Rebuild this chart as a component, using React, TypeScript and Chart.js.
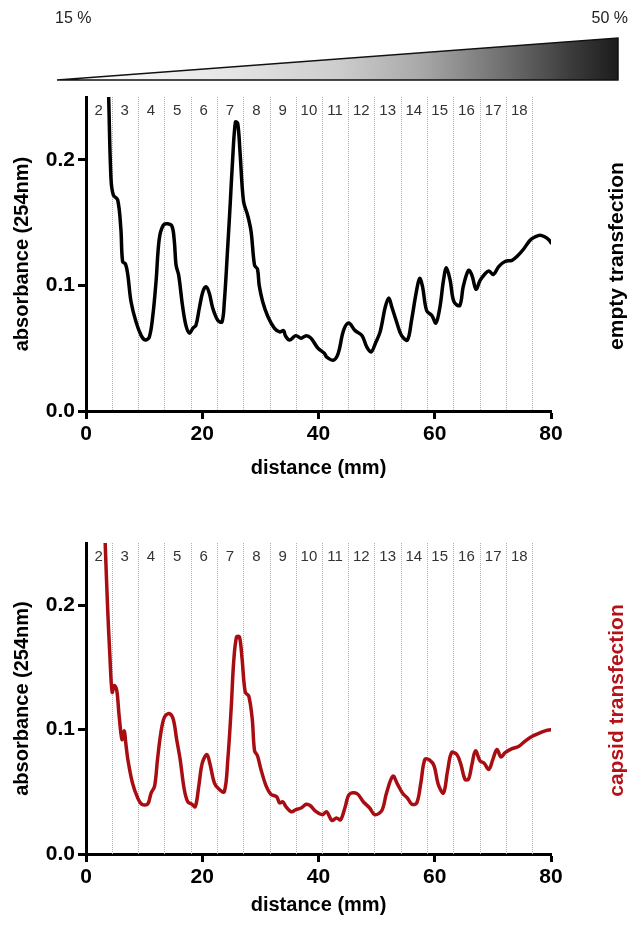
import React, { useEffect, useRef } from 'react';
import { Chart, registerables } from 'chart.js';

Chart.register(...registerables);

const FONT = '"Liberation Sans", Arial, Helvetica, sans-serif';

const X_TICKS = [0, 20, 40, 60, 80];
const Y_TICKS = [0, 0.1, 0.2];
const FRACTION_LABELS = ['2', '3', '4', '5', '6', '7', '8', '9', '10', '11', '12', '13', '14', '15', '16', '17', '18'];
const FRACTION_BOUNDS = [4.4, 8.9, 13.4, 18.0, 22.5, 27.0, 31.6, 36.1, 40.6, 45.1, 49.6, 54.2, 58.6, 63.1, 67.8, 72.3, 76.8];
const GRADIENT_LABELS = ['15 %', '50 %'];

// [distance mm, absorbance]
const EMPTY_TRACE = [
  [3.9, 0.25], [4.3, 0.185], [4.7, 0.172], [5.45, 0.168], [6.0, 0.145], [6.3, 0.119], [6.8, 0.117],
  [7.2, 0.108], [7.75, 0.087], [8.6, 0.071], [9.5, 0.06], [10.2, 0.0565], [10.9, 0.059], [11.5, 0.076],
  [12.05, 0.103], [12.6, 0.137], [13.3, 0.148], [14.05, 0.149], [14.8, 0.147], [15.2, 0.135], [15.5, 0.116],
  [15.95, 0.108], [16.6, 0.084], [17.2, 0.068], [17.8, 0.062], [18.4, 0.066], [18.9, 0.068], [19.5, 0.082],
  [20.1, 0.095], [20.65, 0.099], [21.2, 0.094], [21.8, 0.082], [22.7, 0.072], [23.4, 0.071], [23.8, 0.087],
  [24.4, 0.132], [24.8, 0.164], [25.2, 0.198], [25.7, 0.23], [26.1, 0.229], [26.5, 0.206], [27.1, 0.167],
  [27.8, 0.156], [28.4, 0.143], [29.0, 0.116], [29.5, 0.113], [29.8, 0.1], [30.4, 0.087], [31.3, 0.075],
  [32.4, 0.066], [33.3, 0.063], [34.0, 0.064], [34.3, 0.06], [35.0, 0.0565], [36.1, 0.06], [37.0, 0.058],
  [37.9, 0.06], [38.7, 0.058], [39.9, 0.05], [41.0, 0.046], [41.4, 0.043], [42.6, 0.0405], [43.4, 0.046],
  [44.3, 0.064], [45.2, 0.07], [46.3, 0.064], [47.5, 0.06], [48.3, 0.051], [49.05, 0.047], [49.8, 0.054],
  [50.6, 0.063], [51.5, 0.083], [52.1, 0.09], [52.6, 0.083], [53.5, 0.07], [54.3, 0.06], [55.3, 0.0565],
  [56.0, 0.072], [56.8, 0.094], [57.4, 0.1055], [57.9, 0.099], [58.6, 0.08], [59.5, 0.076], [60.2, 0.07],
  [60.9, 0.083], [61.5, 0.104], [62.0, 0.114], [62.65, 0.104], [63.3, 0.087], [64.3, 0.084], [64.9, 0.099],
  [65.8, 0.112], [66.4, 0.108], [67.1, 0.097], [67.8, 0.104], [68.7, 0.1095], [69.3, 0.1115], [70.1, 0.1087],
  [71.0, 0.115], [72.1, 0.119], [73.3, 0.12], [74.1, 0.1228], [75.3, 0.129], [76.4, 0.136], [77.3, 0.1387],
  [78.1, 0.14], [78.9, 0.1387], [79.7, 0.136], [80.0, 0.134],
];

const CAPSID_TRACE = [
  [3.3, 0.25], [3.7, 0.2], [4.1, 0.16], [4.5, 0.13], [4.9, 0.1355], [5.3, 0.1315], [5.7, 0.111], [6.2, 0.092],
  [6.6, 0.099], [6.8, 0.091], [7.2, 0.076], [8.0, 0.057], [8.9, 0.045], [9.6, 0.04], [10.6, 0.04], [11.2, 0.049],
  [11.8, 0.0545], [12.3, 0.076], [12.9, 0.098], [13.5, 0.11], [14.3, 0.113], [15.0, 0.1085], [15.6, 0.092],
  [16.2, 0.076], [16.9, 0.052], [17.5, 0.042], [18.2, 0.04], [18.8, 0.038], [19.4, 0.0545], [20.0, 0.073],
  [20.8, 0.08], [21.3, 0.073], [22.1, 0.057], [22.9, 0.052], [23.8, 0.05], [24.4, 0.076], [25.0, 0.119],
  [25.4, 0.154], [25.9, 0.1745], [26.4, 0.1745], [26.85, 0.157], [27.4, 0.13], [28.0, 0.127], [28.6, 0.1085],
  [29.0, 0.083], [29.5, 0.079], [30.1, 0.068], [31.0, 0.0545], [31.8, 0.048], [32.8, 0.046], [33.3, 0.041],
  [33.85, 0.042], [34.4, 0.038], [35.3, 0.034], [36.1, 0.0356], [37.0, 0.037], [37.9, 0.04], [38.55, 0.039],
  [39.6, 0.034], [40.7, 0.0316], [41.4, 0.034], [42.3, 0.027], [43.1, 0.029], [43.8, 0.0275], [44.6, 0.038],
  [45.3, 0.048], [46.6, 0.0486], [47.7, 0.042], [48.8, 0.037], [49.7, 0.0316], [50.9, 0.035], [51.7, 0.049],
  [52.8, 0.0626], [53.6, 0.056], [54.5, 0.0486], [55.3, 0.045], [56.05, 0.04], [56.9, 0.041], [57.6, 0.057],
  [58.3, 0.076], [59.1, 0.0756], [59.9, 0.0707], [60.6, 0.056], [61.5, 0.049], [62.2, 0.0667], [62.9, 0.0815],
  [63.8, 0.08], [64.5, 0.072], [65.2, 0.06], [65.8, 0.06], [66.4, 0.072], [67.0, 0.083], [67.8, 0.0748],
  [68.5, 0.073], [69.3, 0.068], [70.0, 0.076], [70.7, 0.084], [71.4, 0.078], [72.1, 0.0815], [73.3, 0.0847],
  [74.4, 0.0864], [75.6, 0.091], [76.7, 0.0945], [77.9, 0.097], [79.0, 0.099], [79.9, 0.0999],
];

const fractionPlugin = {
  id: 'fractions',
  beforeDatasetsDraw(chart: any) {
    const { ctx, chartArea } = chart;
    const x = chart.scales.x;
    ctx.save();
    ctx.strokeStyle = '#b0b0b0';
    ctx.lineWidth = 1;
    ctx.setLineDash([1, 1]);
    FRACTION_BOUNDS.forEach((b) => {
      const px = Math.round(x.getPixelForValue(b)) + 0.5;
      ctx.beginPath();
      ctx.moveTo(px, chartArea.top);
      ctx.lineTo(px, chartArea.bottom);
      ctx.stroke();
    });
    ctx.setLineDash([]);
    ctx.fillStyle = '#333';
    ctx.font = `15px ${FONT}`;
    ctx.textAlign = 'center';
    ctx.textBaseline = 'middle';
    FRACTION_LABELS.forEach((lab, i) => {
      const a = i === 0 ? 0 : FRACTION_BOUNDS[i - 1];
      const b = FRACTION_BOUNDS[i];
      ctx.fillText(lab, x.getPixelForValue((a + b) / 2), chartArea.top + 14);
    });
    ctx.restore();
  },
};

const sideLabelPlugin = (text: string, color: string) => ({
  id: 'sideLabel',
  afterDraw(chart: any) {
    const { ctx, chartArea } = chart;
    ctx.save();
    ctx.translate(617, (chartArea.top + chartArea.bottom) / 2 + 2);
    ctx.rotate(-Math.PI / 2);
    ctx.fillStyle = color;
    ctx.font = `bold 21px ${FONT}`;
    ctx.textAlign = 'center';
    ctx.textBaseline = 'middle';
    ctx.fillText(text, 0, 0);
    ctx.restore();
  },
});

const gradientPlugin = {
  id: 'gradientWedge',
  afterDraw(chart: any) {
    const ctx = chart.ctx;
    const x0 = 57;
    const x1 = 618;
    const yb = 80;
    const yt = 38;
    ctx.save();
    const g = ctx.createLinearGradient(x0, 0, x1, 0);
    g.addColorStop(0, '#ffffff');
    g.addColorStop(0.3, '#e6e6e6');
    g.addColorStop(0.5, '#cdcdcd');
    g.addColorStop(0.65, '#a8a8a8');
    g.addColorStop(0.8, '#6e6e6e');
    g.addColorStop(0.92, '#3a3a3a');
    g.addColorStop(1, '#1c1c1c');
    ctx.beginPath();
    ctx.moveTo(x0, yb);
    ctx.lineTo(x1, yt);
    ctx.lineTo(x1, yb);
    ctx.closePath();
    ctx.fillStyle = g;
    ctx.fill();
    ctx.strokeStyle = '#111';
    ctx.lineWidth = 1.5;
    ctx.stroke();
    ctx.fillStyle = '#222';
    ctx.font = `16px ${FONT}`;
    ctx.textBaseline = 'middle';
    ctx.textAlign = 'left';
    ctx.fillText(GRADIENT_LABELS[0], 55, 19);
    ctx.textAlign = 'right';
    ctx.fillText(GRADIENT_LABELS[1], 628, 19);
    ctx.restore();
  },
};

function makeOptions(padTop: number, padBottom: number, xHeight: number) {
  const tickFont = { family: FONT, size: 21, weight: 'bold' as const };
  const titleFont = { family: FONT, size: 20, weight: 'bold' as const };
  const zeroPad = (s: any) => {
    s.paddingLeft = 0;
    s.paddingRight = 0;
    s.paddingTop = 0;
    s.paddingBottom = 0;
  };
  return {
    animation: false as const,
    responsive: false,
    maintainAspectRatio: false,
    devicePixelRatio: 1,
    layout: { autoPadding: false, padding: { top: padTop, right: 87, bottom: padBottom, left: 0 } },
    plugins: { legend: { display: false }, tooltip: { enabled: false } },
    elements: { point: { radius: 0 } },
    scales: {
      x: {
        type: 'linear' as const,
        min: 0,
        max: 80,
        afterBuildTicks: (s: any) => {
          s.ticks = X_TICKS.map((v) => ({ value: v }));
        },
        afterFit: (s: any) => {
          s.height = xHeight;
          zeroPad(s);
        },
        grid: { drawOnChartArea: false, drawTicks: true, tickLength: 8, tickWidth: 3, tickColor: '#000' },
        border: { display: true, color: '#000', width: 3 },
        ticks: { color: '#000', font: tickFont, padding: 3, maxRotation: 0, autoSkip: false },
        title: { display: true, text: 'distance (mm)', color: '#000', font: titleFont, padding: { top: 0, bottom: 0 } },
      },
      y: {
        type: 'linear' as const,
        min: 0,
        max: 0.25,
        afterBuildTicks: (s: any) => {
          s.ticks = Y_TICKS.map((v) => ({ value: v }));
        },
        afterFit: (s: any) => {
          s.width = 86;
          zeroPad(s);
        },
        grid: { drawOnChartArea: false, drawTicks: true, tickLength: 8, tickWidth: 3, tickColor: '#000' },
        border: { display: true, color: '#000', width: 3 },
        ticks: {
          color: '#000',
          font: tickFont,
          padding: 3,
          autoSkip: false,
          callback: (v: any) => Number(v).toFixed(1),
        },
        title: {
          display: true,
          text: 'absorbance (254nm)',
          color: '#000',
          font: titleFont,
          padding: { top: 10, bottom: 0 },
        },
      },
    },
  };
}

function TraceChart(props: {
  trace: number[][];
  color: string;
  side: string;
  sideColor: string;
  top: number;
  height: number;
  padTop: number;
  padBottom: number;
  xHeight: number;
  wedge?: boolean;
}) {
  const ref = useRef<HTMLCanvasElement>(null);
  useEffect(() => {
    if (!ref.current) return;
    const plugins: any[] = [fractionPlugin, sideLabelPlugin(props.side, props.sideColor)];
    if (props.wedge) plugins.push(gradientPlugin);
    const chart = new Chart(ref.current, {
      type: 'line',
      data: {
        datasets: [
          {
            data: props.trace.map(([x, y]) => ({ x, y })),
            borderColor: props.color,
            borderWidth: 3.5,
            pointRadius: 0,
            fill: false,
            tension: 0.35,
            borderJoinStyle: 'round',
            borderCapStyle: 'round',
          } as any,
        ],
      },
      options: makeOptions(props.padTop, props.padBottom, props.xHeight) as any,
      plugins,
    });
    return () => chart.destroy();
  }, []);
  return (
    <canvas
      ref={ref}
      width={638}
      height={props.height}
      style={{ position: 'absolute', left: 0, top: props.top, width: 638, height: props.height }}
    />
  );
}

export default function App() {
  return (
    <div style={{ position: 'absolute', left: 0, top: 0, width: 638, height: 932, background: '#fff', overflow: 'hidden' }}>
      <TraceChart
        trace={EMPTY_TRACE}
        color="#000000"
        side="empty transfection"
        sideColor="#000000"
        top={0}
        height={488}
        padTop={97}
        padBottom={8}
        xHeight={69}
        wedge
      />
      <TraceChart
        trace={CAPSID_TRACE}
        color="#a80d12"
        side="capsid transfection"
        sideColor="#b51218"
        top={532}
        height={400}
        padTop={11}
        padBottom={15}
        xHeight={63}
      />
    </div>
  );
}
